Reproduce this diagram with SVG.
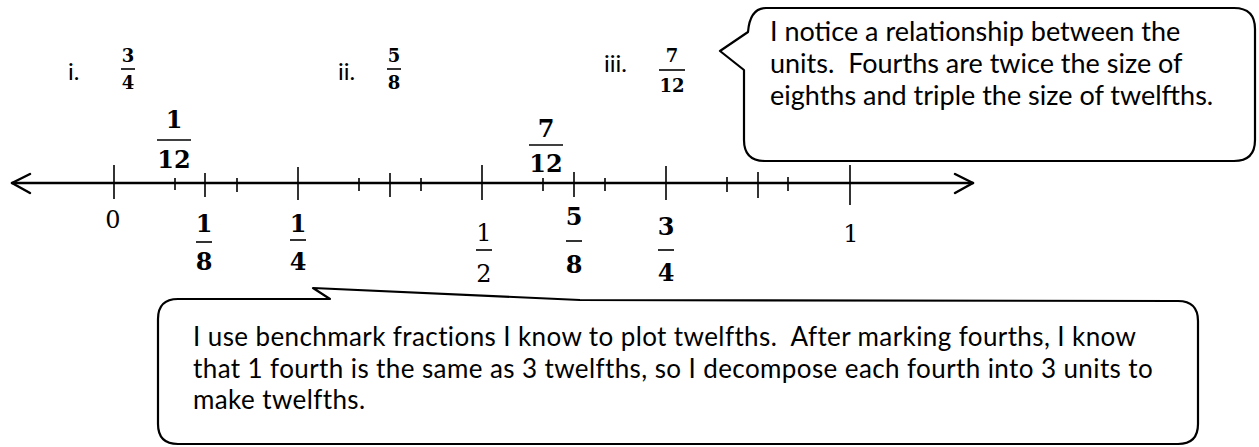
<svg xmlns="http://www.w3.org/2000/svg" width="1259" height="447" viewBox="0 0 1259 447">
<style>
.ln{stroke:#000;stroke-width:2.5;fill:none;stroke-linecap:round;stroke-linejoin:round}
.tk{stroke:#000;stroke-width:1.6}
.bar{stroke:#000;stroke-width:1.6}
.fb{font-family:"DejaVu Serif","Liberation Serif",serif;font-weight:bold;font-size:24px;text-anchor:middle;fill:#000}
.fr{font-family:"DejaVu Serif","Liberation Serif",serif;font-size:24px;text-anchor:middle;fill:#000}
.fs{font-family:"DejaVu Serif","Liberation Serif",serif;font-weight:bold;font-size:18px;text-anchor:middle;fill:#000}
.lab{font-family:Lato,"Liberation Sans",sans-serif;font-size:24px;fill:#000}
.ct{font-family:Lato,"Liberation Sans",sans-serif;font-size:27px;fill:#000}
.cb{font-family:Lato,"Liberation Sans",sans-serif;font-size:26px;letter-spacing:0.4px;fill:#000}
.co{stroke:#000;stroke-width:2.2;fill:#fff;stroke-linejoin:round}
</style>
<rect width="1259" height="447" fill="#fff"/>

<g id="number-line">
  <line class="ln" x1="12" y1="183" x2="973" y2="183"/>
  <polyline class="ln" points="30,174 12,183 30,193"/>
  <polyline class="ln" points="955,174 973,183 955,193"/>
  <g id="major-ticks">
    <line class="tk" x1="114" y1="165" x2="114" y2="199"/>
    <line class="tk" x1="298" y1="167" x2="298" y2="200"/>
    <line class="tk" x1="482" y1="165" x2="482" y2="200"/>
    <line class="tk" x1="666" y1="166" x2="666" y2="200"/>
    <line class="tk" x1="850" y1="165" x2="850" y2="205"/>
  </g>
  <g id="eighth-ticks">
    <line class="tk" x1="205" y1="173" x2="205" y2="197"/>
    <line class="tk" x1="390" y1="173" x2="390" y2="197"/>
    <line class="tk" x1="574" y1="172" x2="574" y2="197"/>
    <line class="tk" x1="758" y1="172" x2="758" y2="198"/>
  </g>
  <g id="twelfth-ticks">
    <line class="tk" x1="175" y1="178" x2="175" y2="190"/>
    <line class="tk" x1="237" y1="178" x2="237" y2="192"/>
    <line class="tk" x1="359" y1="178" x2="359" y2="191"/>
    <line class="tk" x1="421" y1="178" x2="421" y2="191"/>
    <line class="tk" x1="543" y1="178" x2="543" y2="191"/>
    <line class="tk" x1="605" y1="178" x2="605" y2="191"/>
    <line class="tk" x1="727" y1="177" x2="727" y2="192"/>
    <line class="tk" x1="788" y1="177" x2="788" y2="191"/>
  </g>
</g>

<g id="problems">
  <g id="p1">
    <text class="lab" x="68" y="80">i.</text>
    <text class="fs" x="128" y="62">3</text>
    <line class="bar" x1="121" y1="69" x2="135" y2="69"/>
    <text class="fs" x="128" y="89">4</text>
  </g>
  <g id="p2">
    <text class="lab" x="338" y="80">ii.</text>
    <text class="fs" x="394" y="62">5</text>
    <line class="bar" x1="387" y1="69" x2="401" y2="69"/>
    <text class="fs" x="394" y="89">8</text>
  </g>
  <g id="p3">
    <text class="lab" x="604" y="72">iii.</text>
    <text class="fs" x="672" y="62">7</text>
    <line class="bar" x1="659" y1="70" x2="685" y2="70"/>
    <text class="fs" x="672" y="92">12</text>
  </g>
</g>

<g id="labels-above">
  <g id="lab-1-12">
    <text class="fb" x="174" y="128">1</text>
    <line class="bar" x1="157" y1="140" x2="191" y2="140"/>
    <text class="fb" x="174" y="168">12</text>
  </g>
  <g id="lab-7-12">
    <text class="fb" x="546" y="137">7</text>
    <line class="bar" x1="529" y1="145" x2="563" y2="145"/>
    <text class="fb" x="546" y="172">12</text>
  </g>
</g>

<g id="labels-below">
  <text class="fr" x="113" y="228">0</text>
  <g id="lab-1-8">
    <text class="fb" x="204" y="232">1</text>
    <line class="bar" x1="196" y1="242" x2="212" y2="242"/>
    <text class="fb" x="204" y="270">8</text>
  </g>
  <g id="lab-1-4">
    <text class="fb" x="298" y="232">1</text>
    <line class="bar" x1="290" y1="240" x2="306" y2="240"/>
    <text class="fb" x="298" y="270">4</text>
  </g>
  <g id="lab-1-2">
    <text class="fr" x="484" y="241">1</text>
    <line class="bar" x1="476" y1="250" x2="492" y2="250"/>
    <text class="fr" x="484" y="282">2</text>
  </g>
  <g id="lab-5-8">
    <text class="fb" x="574" y="225">5</text>
    <line class="bar" x1="566" y1="241" x2="582" y2="241"/>
    <text class="fb" x="574" y="273">8</text>
  </g>
  <g id="lab-3-4">
    <text class="fb" x="666" y="235">3</text>
    <line class="bar" x1="658" y1="250" x2="674" y2="250"/>
    <text class="fb" x="666" y="281">4</text>
  </g>
  <text class="fr" x="851" y="242">1</text>
</g>

<g id="callout-top">
  <path class="co" d="M766,8 L1234,8 Q1255,8 1255,29 L1255,140 Q1255,161 1234,161 L765,161 Q744,161 744,140 L744,70 L720,51 L748,32 Q750,8 766,8 Z"/>
  <text class="ct" x="770" y="41">I notice a relationship between the</text>
  <text class="ct" x="770" y="73" xml:space="preserve">units.  Fourths are twice the size of</text>
  <text class="ct" x="770" y="105">eighths and triple the size of twelfths.</text>
</g>

<g id="callout-bottom">
  <path class="co" d="M178,299 L330,299 L313,288 L580,300 L1178,301 Q1198,301 1198,321 L1198,424 Q1198,444 1178,444 L178,444 Q158,444 158,424 L158,319 Q158,299 178,299 Z"/>
  <text class="cb" x="193" y="346" xml:space="preserve">I use benchmark fractions I know to plot twelfths.  After marking fourths, I know</text>
  <text class="cb" x="193" y="377.5">that 1 fourth is the same as 3 twelfths, so I decompose each fourth into 3 units to</text>
  <text class="cb" x="193" y="409">make twelfths.</text>
</g>
</svg>
